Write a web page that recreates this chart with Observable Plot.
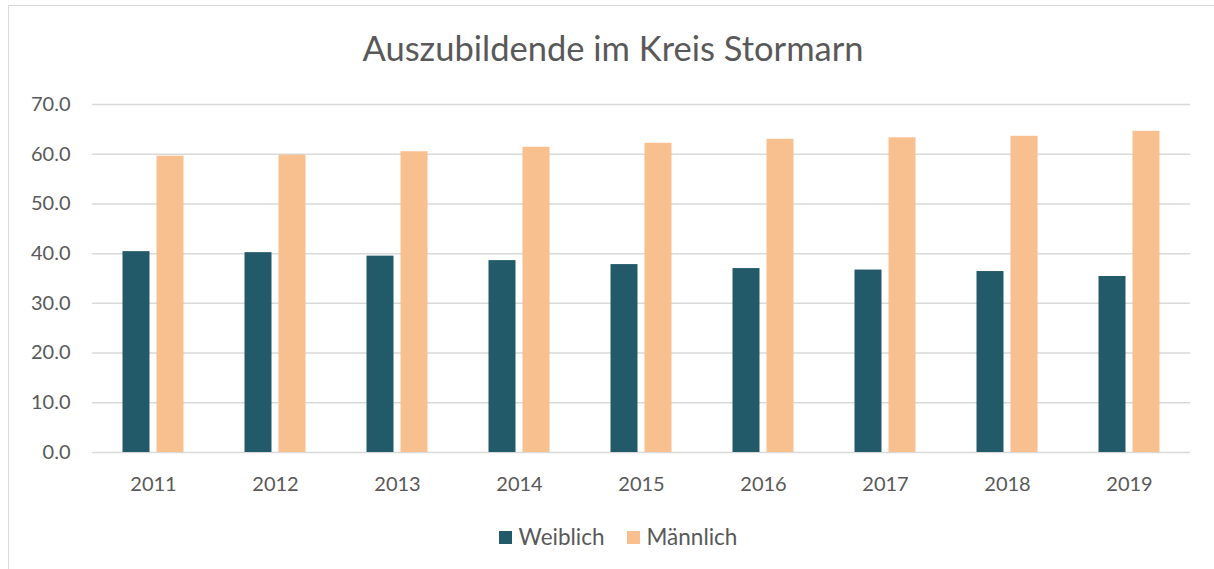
<!DOCTYPE html>
<html>
<head>
<meta charset="utf-8">
<script src="https://cdn.jsdelivr.net/npm/d3@7"></script>
<script src="https://cdn.jsdelivr.net/npm/@observablehq/plot@0.6"></script>
<style>
  html, body { margin: 0; padding: 0; background: #fff; }
  #wrap { position: relative; width: 1214px; height: 569px; overflow: hidden; font-family: Lato, "Open Sans", sans-serif; color: #595959; }
  #frame { position: absolute; left: 8px; top: 5px; width: 1220px; height: 580px; border: 1.5px solid #D9D9D9; box-sizing: border-box; }
  #title { position: absolute; left: 6px; width: 1214px; top: 26px; text-align: center; font-size: 34.5px; line-height: 44px; color: #595959; }
  #chart { position: absolute; left: 0; top: 90px; }
  #legend { position: absolute; left: 11px; width: 1214px; top: 523px; display: flex; justify-content: center; align-items: center; font-size: 22.5px; line-height: 28px; }
  .item { display: flex; align-items: center; margin: 0 11px; }
  .sw { width: 13px; height: 13px; margin-right: 7px; }
</style>
</head>
<body>
<div id="wrap">
  <div id="frame"></div>
  <div id="title">Auszubildende im Kreis Stormarn</div>
  <div id="chart"></div>
  <div id="legend"></div>
</div>
<script>
const years = ["2011", "2012", "2013", "2014", "2015", "2016", "2017", "2018", "2019"];
const weiblich = [40.4, 40.2, 39.5, 38.6, 37.8, 37.0, 36.7, 36.4, 35.4];
const maennlich = [59.6, 59.8, 60.5, 61.4, 62.2, 63.0, 63.3, 63.6, 64.6];
const seriesNames = ["Weiblich", "Männlich"];
const seriesColors = ["#235A69", "#F9C08F"];
const yTicks = [0, 10, 20, 30, 40, 50, 60, 70];

const rowsW = years.map((y, i) => ({year: y, value: weiblich[i]}));
const rowsM = years.map((y, i) => ({year: y, value: maennlich[i]}));

const width = 1214, mLeft = 92, mRight = 24;
const step = (width - mLeft - mRight) / years.length;
const barW = 27, gap = 7;
const half = step / 2;
const wInsetL = half - gap / 2 - barW, wInsetR = step - wInsetL - barW;
const mInsetL = half + gap / 2, mInsetR = step - mInsetL - barW;

const plot = Plot.plot({
  width: width,
  height: 412,
  marginLeft: mLeft,
  marginRight: mRight,
  marginTop: 14,
  marginBottom: 50,
  style: {fontFamily: "Lato, 'Open Sans', sans-serif", fontSize: "20px", color: "#595959", background: "transparent"},
  x: {type: "band", domain: years, padding: 0},
  y: {domain: [0, 70]},
  marks: [
    Plot.ruleY(yTicks, {stroke: "#D9D9D9", strokeWidth: 1.5}),
    Plot.barY(rowsW, {x: "year", y: "value", fill: seriesColors[0], insetLeft: wInsetL, insetRight: wInsetR}),
    Plot.barY(rowsM, {x: "year", y: "value", fill: seriesColors[1], insetLeft: mInsetL, insetRight: mInsetR}),
    Plot.axisX({tickSize: 0, tickPadding: 24, label: null, fill: "#595959"}),
    Plot.axisY({ticks: yTicks, tickSize: 0, tickPadding: 22, tickFormat: d => d.toFixed(1), label: null, fill: "#595959"})
  ]
});
document.getElementById("chart").appendChild(plot);

const legend = document.getElementById("legend");
seriesNames.forEach((n, i) => {
  const it = document.createElement("div");
  it.className = "item";
  const sw = document.createElement("div");
  sw.className = "sw";
  sw.style.background = seriesColors[i];
  const t = document.createElement("span");
  t.textContent = n;
  it.appendChild(sw); it.appendChild(t);
  legend.appendChild(it);
});
</script>
</body>
</html>
